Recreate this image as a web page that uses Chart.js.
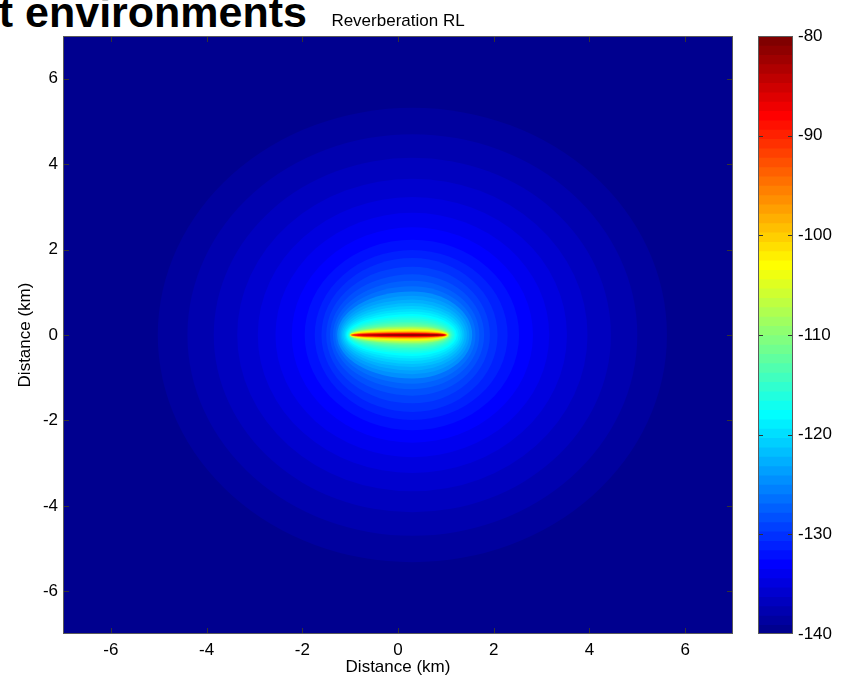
<!DOCTYPE html>
<html>
<head>
<meta charset="utf-8">
<title>Reverberation RL</title>
<script src="https://cdn.jsdelivr.net/npm/chart.js@4/dist/chart.umd.min.js"></script>
<style>
  html, body { margin: 0; padding: 0; background: #fff; }
  #wrap { position: relative; width: 842px; height: 679px; overflow: hidden;
          font-family: Arial, "Liberation Sans", sans-serif; }
  #heading { position: absolute; right: 535px; top: -9px; font-size: 43px; line-height: 43px;
             font-weight: bold; white-space: nowrap; color: #000; }
  #main { position: absolute; left: 0; top: 0; }
  #cbar { position: absolute; left: 740px; top: 0; }
</style>
</head>
<body>
<div id="wrap">
  <div id="heading">nt environments</div>
  <canvas id="main" width="842" height="679"></canvas>
  <canvas id="cbar" width="102" height="679"></canvas>
</div>
<script>
// Axis ticks (km) and colour-bar ticks (dB)
const xTicksKm = [-6, -4, -2, 0, 2, 4, 6];
const yTicksKm = [-6, -4, -2, 0, 2, 4, 6];
const colorTicksDb = [-140, -130, -120, -110, -100, -90, -80];

// Filled contours of reverberation level: each level bounds the region where RL >= level.
// Every contour is an egg shape around the ring centre on the y = 0 axis:
// left end, right end and half-width (km).
const ringCentreKm = 0.3;
const contourLevelDb = [
  -139, -138, -137, -136, -135, -134, -133, -132, -131, -130,
  -129, -128, -127, -126, -125, -124, -123, -122, -121, -120,
  -119, -118, -117, -116, -115, -114, -113, -112, -111, -110,
  -109, -108, -107, -106, -105, -104, -103, -102, -101, -100,
   -99,  -98,  -97,  -96,  -95,  -94,  -93,  -92,  -91,  -90,
   -89,  -88,  -87,  -86,  -85,  -84,  -83,  -82,  -81
];
const contourLeftKm = [
  -5.02, -4.40, -3.85, -3.36, -2.93, -2.56, -2.22, -1.95, -1.74, -1.60,
  -1.50, -1.42, -1.36, -1.31, -1.27, -1.23, -1.20, -1.17, -1.14, -1.11,
  -1.09, -1.07, -1.05, -1.04, -1.03, -1.02, -1.015, -1.01, -1.005, -1.00,
  -1.00, -1.00, -1.00, -1.00, -1.00, -0.99, -0.99, -0.99, -0.99, -0.99,
  -0.99, -0.98, -0.98, -0.98, -0.97, -0.97, -0.96, -0.95, -0.94, -0.92,
  -0.90, -0.87, -0.84, -0.80, -0.75, -0.68, -0.58, -0.45, -0.25
];
const contourRightKm = [
  5.62, 5.00, 4.45, 3.96, 3.53, 3.16, 2.82, 2.53, 2.29, 2.08,
  1.92, 1.80, 1.70, 1.62, 1.55, 1.49, 1.44, 1.39, 1.35, 1.31,
  1.27, 1.23, 1.20, 1.17, 1.14, 1.12, 1.10, 1.09, 1.08, 1.07,
  1.06, 1.055, 1.05, 1.045, 1.04, 1.04, 1.035, 1.03, 1.03, 1.025,
  1.02, 1.02, 1.015, 1.01, 1.01, 1.005, 1.00, 1.00, 0.995, 0.99,
  0.985, 0.98, 0.975, 0.97, 0.96, 0.95, 0.93, 0.90, 0.85
];
const contourHalfWidthKm = [
  5.32, 4.70, 4.15, 3.66, 3.23, 2.86, 2.52, 2.23, 1.99, 1.80,
  1.60, 1.42, 1.27, 1.14, 1.02, 0.92, 0.83, 0.75, 0.68, 0.61,
  0.55, 0.49, 0.44, 0.39, 0.35, 0.31, 0.28, 0.25, 0.225, 0.20,
  0.185, 0.17, 0.155, 0.145, 0.135, 0.125, 0.115, 0.106, 0.098, 0.090,
  0.083, 0.076, 0.070, 0.064, 0.059, 0.054, 0.050, 0.046, 0.042, 0.039,
  0.036, 0.033, 0.030, 0.027, 0.024, 0.021, 0.018, 0.014, 0.011
];

// ---- MATLAB-style jet colormap with 64 entries ----
const JET_N = 64;
const jetMap = (function () {
  const n = Math.ceil(JET_N / 4);
  const u = [];
  for (let i = 1; i <= n; i++) u.push(i / n);
  for (let i = 1; i < n; i++) u.push(1);
  for (let i = n; i >= 1; i--) u.push(i / n);
  const gOff = Math.ceil(n / 2) - (JET_N % 4 === 1 ? 1 : 0);
  const cols = Array.from({ length: JET_N }, () => [0, 0, 0]);
  u.forEach((val, k) => {
    const g = gOff + k + 1, r = g + n, b = g - n;
    if (r >= 1 && r <= JET_N) cols[r - 1][0] = val;
    if (g >= 1 && g <= JET_N) cols[g - 1][1] = val;
    if (b >= 1 && b <= JET_N) cols[b - 1][2] = val;
  });
  return cols.map(c => `rgb(${Math.round(c[0] * 255)},${Math.round(c[1] * 255)},${Math.round(c[2] * 255)})`);
})();

const RL_MIN = colorTicksDb[0];
const RL_MAX = colorTicksDb[colorTicksDb.length - 1];
function jetColor(db) {
  let i = Math.floor((db - RL_MIN) / (RL_MAX - RL_MIN) * JET_N);
  i = Math.max(0, Math.min(JET_N - 1, i));
  return jetMap[i];
}

const FONT = { family: 'Arial, "Liberation Sans", sans-serif', size: 17 };
const INK = '#000';
const FRAME = '#5a5a5a';

// Paints the filled contours inside the plot area through the x / y scales
const fieldPlugin = {
  id: 'rlField',
  beforeDatasetsDraw(chart) {
    const { ctx, chartArea: a, scales: { x, y } } = chart;
    ctx.save();
    ctx.beginPath();
    ctx.rect(a.left, a.top, a.width, a.height);
    ctx.clip();
    ctx.fillStyle = jetColor(RL_MIN);
    ctx.fillRect(a.left, a.top, a.width, a.height);
    const cx = x.getPixelForValue(ringCentreKm);
    const cy = y.getPixelForValue(0);
    contourLevelDb.forEach((lv, i) => {
      const rxR = Math.max(0.01, x.getPixelForValue(contourRightKm[i]) - cx);
      const rxL = Math.max(0.01, cx - x.getPixelForValue(contourLeftKm[i]));
      const ry = Math.max(0.01, cy - y.getPixelForValue(contourHalfWidthKm[i]));
      ctx.beginPath();
      ctx.ellipse(cx, cy, rxR, ry, 0, -Math.PI / 2, Math.PI / 2);
      ctx.ellipse(cx, cy, rxL, ry, 0, Math.PI / 2, Math.PI * 1.5);
      ctx.closePath();
      ctx.fillStyle = jetColor(lv);
      ctx.fill();
    });
    ctx.restore();
  },
  afterDraw(chart) {
    const { ctx, chartArea: a, scales: { x, y } } = chart;
    ctx.save();
    ctx.strokeStyle = '#333';
    ctx.lineWidth = 1;
    const len = 6;
    ctx.beginPath();
    xTicksKm.forEach(v => {
      const px = Math.round(x.getPixelForValue(v)) + 0.5;
      ctx.moveTo(px, a.bottom); ctx.lineTo(px, a.bottom - len);
      ctx.moveTo(px, a.top); ctx.lineTo(px, a.top + len);
    });
    yTicksKm.forEach(v => {
      const py = Math.round(y.getPixelForValue(v)) + 0.5;
      ctx.moveTo(a.left, py); ctx.lineTo(a.left + len, py);
      ctx.moveTo(a.right, py); ctx.lineTo(a.right - len, py);
    });
    ctx.stroke();
    ctx.strokeStyle = FRAME;
    ctx.strokeRect(Math.round(a.left) + 0.5, Math.round(a.top) + 0.5,
                   Math.round(a.width) - 1, Math.round(a.height) - 1);
    ctx.restore();
  }
};

new Chart(document.getElementById('main'), {
  type: 'scatter',
  data: { datasets: [] },
  options: {
    responsive: false,
    animation: false,
    events: [],
    layout: { padding: { left: 0, right: 109, top: 0, bottom: 0 } },
    plugins: {
      legend: { display: false },
      tooltip: { enabled: false },
      title: {
        display: true, text: 'Reverberation RL', fullSize: false, color: INK,
        font: { family: FONT.family, size: 17, weight: 'normal', lineHeight: 1.2 },
        padding: { top: 11, bottom: 4.6 }
      }
    },
    scales: {
      x: {
        type: 'linear', min: -7, max: 7,
        afterBuildTicks: s => { s.ticks = xTicksKm.map(v => ({ value: v })); },
        afterFit: s => { s.height = 45; },
        grid: { display: false, drawTicks: false },
        border: { display: false },
        ticks: { color: INK, font: FONT, padding: 6, maxRotation: 0 },
        title: { display: true, text: 'Distance (km)', color: INK, font: FONT, padding: { top: 0, bottom: 1 } }
      },
      y: {
        type: 'linear', min: -7, max: 7,
        afterBuildTicks: s => { s.ticks = yTicksKm.map(v => ({ value: v })); },
        afterFit: s => { s.width = 63; },
        grid: { display: false, drawTicks: false },
        border: { display: false },
        ticks: { color: INK, font: FONT, padding: 5 },
        title: { display: true, text: 'Distance (km)', color: INK, font: FONT, padding: { top: 15, bottom: 0 } }
      }
    }
  },
  plugins: [fieldPlugin]
});

// ---- Colour bar: one floating bar per colormap band, top band first so it is painted last ----
const bandStep = (RL_MAX - RL_MIN) / JET_N;
const bandSets = [];
for (let k = JET_N - 1; k >= 0; k--) {
  bandSets.push({
    data: [[RL_MIN + k * bandStep, RL_MAX]],
    backgroundColor: jetMap[k],
    borderWidth: 0,
    grouped: false,
    barPercentage: 1,
    categoryPercentage: 1
  });
}

const cbarFrame = {
  id: 'cbarFrame',
  afterDraw(chart) {
    const { ctx, chartArea: a, scales: { y } } = chart;
    ctx.save();
    ctx.strokeStyle = '#333';
    ctx.lineWidth = 1;
    ctx.beginPath();
    colorTicksDb.slice(1, -1).forEach(v => {
      const py = Math.round(y.getPixelForValue(v)) + 0.5;
      ctx.moveTo(a.left, py); ctx.lineTo(a.left + 5, py);
      ctx.moveTo(a.right, py); ctx.lineTo(a.right - 5, py);
    });
    ctx.stroke();
    ctx.strokeStyle = FRAME;
    ctx.strokeRect(Math.round(a.left) + 0.5, Math.round(a.top) + 0.5,
                   Math.round(a.width) - 1, Math.round(a.height) - 1);
    ctx.restore();
  }
};

new Chart(document.getElementById('cbar'), {
  type: 'bar',
  data: { labels: ['RL'], datasets: bandSets },
  options: {
    responsive: false,
    animation: false,
    events: [],
    layout: { padding: { left: 18, right: 0, top: 36, bottom: 45 } },
    plugins: { legend: { display: false }, tooltip: { enabled: false } },
    scales: {
      x: { display: false },
      y: {
        position: 'right', min: RL_MIN, max: RL_MAX,
        afterBuildTicks: s => { s.ticks = colorTicksDb.map(v => ({ value: v })); },
        afterFit: s => { s.width = 49; },
        grid: { display: false, drawTicks: false },
        border: { display: false },
        ticks: { color: INK, font: FONT, padding: 5 }
      }
    }
  },
  plugins: [cbarFrame]
});
</script>
</body>
</html>
